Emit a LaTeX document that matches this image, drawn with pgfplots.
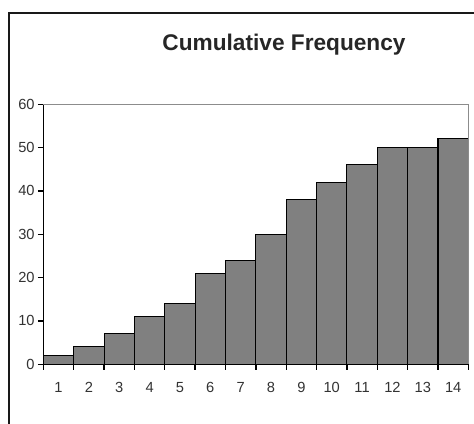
\documentclass[border=0pt]{standalone}
\usepackage{pgfplots}
\pgfplotsset{compat=1.18}
\usepackage{fontspec}
\setmainfont{Liberation Sans}
\begin{document}
\begin{tikzpicture}
\clip (0,0) rectangle (355.5pt,318pt);
\fill[white] (0,0) rectangle (355.5pt,318pt);
\draw[line width=1.5pt, black!90] (6.4pt,-20pt) -- (6.4pt,307.9pt) -- (380pt,307.9pt);
\node[font=\bfseries\fontsize{17}{20}\selectfont, text=black!85] at (213pt,284.2pt) {Cumulative Frequency};
\begin{axis}[
  at={(32.5pt,44.8pt)}, anchor=south west,
  scale only axis, width=318.75pt, height=195pt,
  xmin=0.5, xmax=14.5, ymin=0, ymax=60,
  ybar, bar width=1,
  axis x line*=bottom, axis y line*=left,
  axis line style={-, black, line width=1.2pt},
  /pgf/number format/assume math mode=true,
  ytick={0,10,...,60},
  xtick={0.5,1.5,...,14.5},
  x tick label as interval,
  xticklabels={1,2,3,4,5,6,7,8,9,10,11,12,13,14},
  tick align=outside,
  major tick length=4pt,
  every tick/.append style={black, line width=1pt},
  ticklabel style={font=\fontsize{11}{13}\selectfont, text=black!80},
  xticklabel style={yshift=-6pt},
  yticklabel style={xshift=1pt},
  clip=false,
]
\addplot[fill=black!50, draw=black, line width=0.8pt] coordinates {
(1,2) (2,4) (3,7) (4,11) (5,14) (6,21) (7,24) (8,30) (9,38) (10,42) (11,46) (12,50) (13,50) (14,52)
};
\draw[black!45, line width=0.9pt] (axis cs:0.5,60) -- (axis cs:14.5,60) -- (axis cs:14.5,0);
\end{axis}
\end{tikzpicture}
\end{document}
